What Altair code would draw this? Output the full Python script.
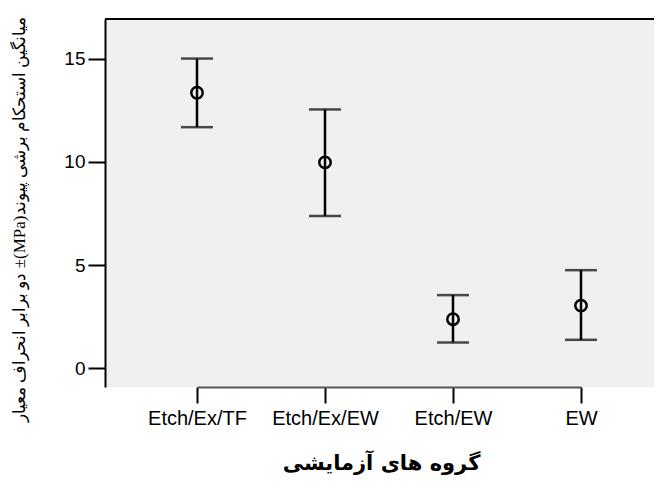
import altair as alt
import pandas as pd

groups = ["Etch/Ex/TF", "Etch/Ex/EW", "Etch/EW", "EW"]
means = [13.36, 9.98, 2.37, 3.03]
upper = [15.02, 12.55, 3.54, 4.75]
lower = [11.69, 7.38, 1.24, 1.37]
y_ticks = [0, 5, 10, 15]

df = pd.DataFrame({"group": groups, "mean": means, "upper": upper, "lower": lower})

W, H = 549, 368
y_title = "\u202b" + "میانگین استحکام برشی پیوند(MPa)± دو برابر انحراف معیار" + "\u202c"
x_title = "گروه های آزمایشی"

xscale = alt.Scale(type="point", domain=groups, range=[92, 476], padding=0)
yscale = alt.Scale(domain=[-0.92, 16.94], nice=False, zero=False)

xenc = alt.X(
    "group:N", scale=xscale, sort=groups,
    axis=alt.Axis(
        title=x_title, labelAngle=0, labelFontSize=20, labelFont="Liberation Sans",
        labelColor="black", labelPadding=5,
        tickSize=16, tickWidth=2, tickColor="black",
        domainColor="#555555", domainWidth=2,
        titleFont="DejaVu Sans", titleFontSize=21, titleFontWeight="bold",
        titleColor="black", titleX=276, titleY=82, titleBaseline="alphabetic",
        titleAlign="center", grid=False,
    ),
)
yenc = alt.Y(
    "upper:Q", scale=yscale,
    axis=alt.Axis(
        values=y_ticks, title=y_title, labelFontSize=19, labelFont="Liberation Sans",
        labelColor="black", labelPadding=3,
        tickSize=17, tickWidth=2, tickColor="black",
        domainColor="black", domainWidth=2,
        titleFont="Liberation Serif", titleFontSize=17, titleFontWeight="normal",
        titleColor="black", titleAngle=270, titleAlign="center",
        titleBaseline="middle", titleX=-86, titleY=200, grid=False,
    ),
)

base = alt.Chart(df)

rule = base.mark_rule(color="black", strokeWidth=2.5).encode(
    x=xenc, y=yenc, y2="lower:Q"
)
cap_hi = base.mark_tick(color="black", size=32, thickness=2.5, orient="horizontal").encode(
    x=alt.X("group:N", scale=xscale, sort=groups), y=alt.Y("upper:Q", scale=yscale)
)
cap_lo = base.mark_tick(color="black", size=32, thickness=2.5, orient="horizontal").encode(
    x=alt.X("group:N", scale=xscale, sort=groups), y=alt.Y("lower:Q", scale=yscale)
)
pts = base.mark_point(shape="circle", filled=False, color="black", size=130, strokeWidth=2.5, opacity=1).encode(
    x=alt.X("group:N", scale=xscale, sort=groups), y=alt.Y("mean:Q", scale=yscale)
)
top_border = alt.Chart(df).mark_rule(color="black", strokeWidth=2).encode(
    x=alt.value(0), x2=alt.value(W), y=alt.value(0)
)

chart = alt.layer(rule, cap_hi, cap_lo, pts, top_border).properties(
    width=W, height=H,
    autosize=alt.AutoSizeParams(type="none"),
    padding={"left": 97, "top": 11, "right": 0, "bottom": 93},
    background="white",
).configure_view(fill="#f0f0f0", strokeOpacity=0)

chart.save("out.html", embed_options={"renderer": "svg", "actions": False})
